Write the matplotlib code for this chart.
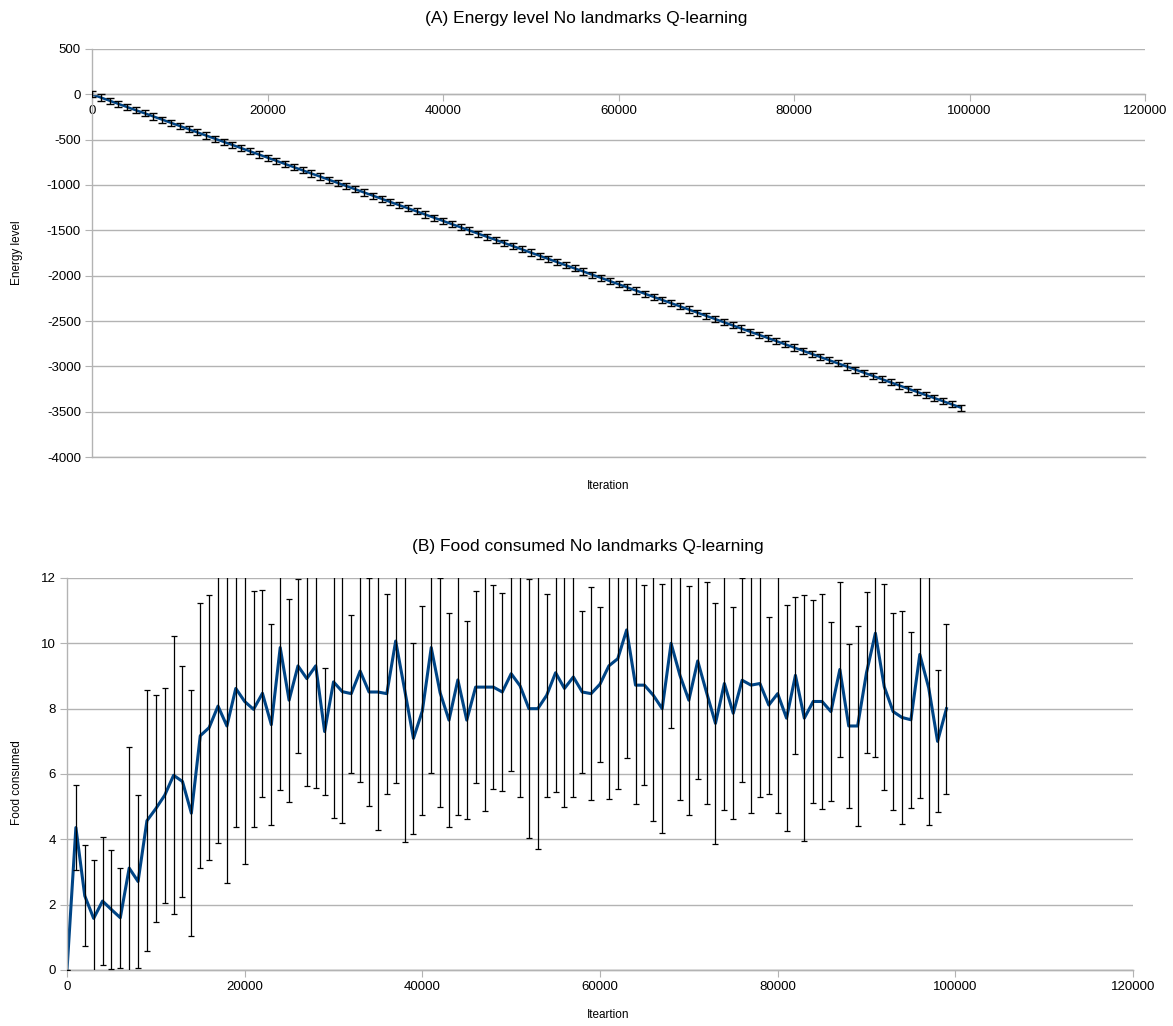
import numpy as np
import matplotlib
matplotlib.use("Agg")
import matplotlib.pyplot as plt

plt.rcParams['font.family'] = ['Liberation Sans', 'DejaVu Sans']
plt.rcParams['axes.unicode_minus'] = False

# iterations (shared by both charts)
iterations = [i * 1000 for i in range(100)]

# (A) energy level
energy = [0, -35, -70, -105, -140, -175, -209, -244, -279, -314,
          -349, -384, -419, -454, -489, -524, -558, -593, -628, -663,
          -698, -733, -768, -803, -838, -873, -907, -942, -977, -1012,
          -1047, -1082, -1117, -1152, -1187, -1222, -1256, -1291, -1326, -1361,
          -1396, -1431, -1466, -1501, -1536, -1571, -1605, -1640, -1675, -1710,
          -1745, -1780, -1815, -1850, -1885, -1920, -1954, -1989, -2024, -2059,
          -2094, -2129, -2164, -2199, -2234, -2269, -2303, -2338, -2373, -2408,
          -2443, -2478, -2513, -2548, -2583, -2618, -2652, -2687, -2722, -2757,
          -2792, -2827, -2862, -2897, -2932, -2967, -3001, -3036, -3071, -3106,
          -3141, -3176, -3211, -3246, -3281, -3316, -3350, -3385, -3420, -3455]
energy_err = [34] * 100

# (B) food consumed
food = [0, 4.36, 2.27, 1.58, 2.11, 1.85, 1.60, 3.12, 2.71, 4.57,
        4.94, 5.35, 5.96, 5.77, 4.80, 7.17, 7.42, 8.08, 7.47, 8.62,
        8.22, 7.98, 8.47, 7.51, 9.87, 8.26, 9.31, 8.92, 9.31, 7.30,
        8.82, 8.52, 8.46, 9.15, 8.51, 8.51, 8.46, 10.07, 8.59, 7.09,
        7.93, 9.87, 8.49, 7.65, 8.88, 7.65, 8.66, 8.66, 8.66, 8.51,
        9.07, 8.70, 8.0, 8.0, 8.41, 9.10, 8.62, 8.97, 8.51, 8.46,
        8.75, 9.31, 9.53, 10.41, 8.72, 8.72, 8.41, 8.0, 10.0, 9.02,
        8.26, 9.46, 8.49, 7.55, 8.77, 7.86, 8.87, 8.72, 8.77, 8.11,
        8.46, 7.71, 9.02, 7.71, 8.22, 8.22, 7.91, 9.20, 7.47, 7.47,
        9.10, 10.31, 8.67, 7.91, 7.73, 7.66, 9.66, 8.64, 7.0, 8.0]
food_err = [0, 1.3, 1.55, 1.79, 1.95, 1.83, 1.53, 3.72, 2.64, 4.0,
            3.47, 3.29, 4.26, 3.54, 3.77, 4.06, 4.06, 4.18, 4.82, 4.23,
            4.97, 3.61, 3.16, 3.08, 4.36, 3.11, 2.67, 3.28, 3.73, 1.94,
            4.18, 4.03, 2.42, 3.41, 3.5, 4.22, 3.06, 4.35, 4.67, 2.92,
            3.2, 3.83, 3.5, 3.28, 4.13, 3.02, 2.95, 3.78, 3.13, 3.04,
            2.97, 3.4, 3.97, 4.3, 3.11, 3.65, 3.62, 3.67, 2.47, 3.25,
            2.37, 4.07, 4.0, 3.93, 3.64, 3.07, 3.84, 3.82, 2.6, 3.82,
            3.51, 3.61, 3.4, 3.7, 3.87, 3.25, 3.13, 3.9, 3.47, 2.71,
            3.64, 3.47, 2.4, 3.77, 3.1, 3.3, 2.73, 2.67, 2.52, 3.07,
            2.46, 3.78, 3.16, 3.02, 3.27, 2.69, 4.39, 4.19, 2.17, 2.6]

line_col = '#004586'
grid_col = '#b3b3b3'

fig = plt.figure(figsize=(11.73, 10.26), dpi=100)
axA = fig.add_axes([92 / 1173, 1 - 457 / 1026, 1053 / 1173, 408 / 1026])
axB = fig.add_axes([67 / 1173, 1 - 970 / 1026, 1066 / 1173, 392 / 1026])


def style(ax, ymin):
    ax.set_xlim(0, 120000)
    ax.set_xticks(range(0, 120001, 20000))
    ax.grid(axis='y', color=grid_col, linewidth=1)
    ax.axhline(ymin, color=grid_col, linewidth=1, clip_on=False, zorder=0.5)
    ax.set_axisbelow(True)
    for s in ['top', 'right']:
        ax.spines[s].set_visible(False)
    for s in ['left', 'bottom']:
        ax.spines[s].set_color(grid_col)
        ax.spines[s].set_linewidth(1)
    ax.tick_params(length=5, color=grid_col, labelsize=9.5, pad=3)


# (A)
axA.plot(iterations, energy, color=line_col, linewidth=1.8, zorder=2)
axA.errorbar(iterations, energy, yerr=energy_err, fmt='none',
             ecolor='black', elinewidth=1.0, capsize=3, capthick=1.0, zorder=3)
style(axA, -4000)
axA.set_ylim(-4000, 500)
axA.set_yticks(range(-4000, 501, 500))
axA.spines['bottom'].set_position(('data', 0))

# (B)
axB.plot(iterations, food, color=line_col, linewidth=2.2, zorder=2)
axB.errorbar(iterations, food, yerr=food_err, fmt='none',
             ecolor='black', elinewidth=0.9, capsize=2.4, capthick=0.9, zorder=3)
style(axB, 0)
axB.set_ylim(0, 12)
axB.set_yticks(range(0, 13, 2))

# titles and axis labels placed in figure pixels
W, H = 1173, 1026
fig.text(586 / W, 1 - 18 / H, '(A) Energy level No landmarks Q-learning',
         ha='center', va='center', fontsize=12.5)
fig.text(588 / W, 1 - 546 / H, '(B) Food consumed No landmarks Q-learning',
         ha='center', va='center', fontsize=12.5)
fig.text(17 / W, 1 - 253 / H, 'Energy level', rotation=90,
         ha='center', va='center', fontsize=8.5)
fig.text(17 / W, 1 - 783 / H, 'Food consumed', rotation=90,
         ha='center', va='center', fontsize=8.5)
fig.text(608 / W, 1 - 486 / H, 'Iteration', ha='center', va='center', fontsize=8.5)
fig.text(608 / W, 1 - 1015 / H, 'Iteartion', ha='center', va='center', fontsize=8.5)

fig.savefig('out.png', dpi=100)
plt.close(fig)
